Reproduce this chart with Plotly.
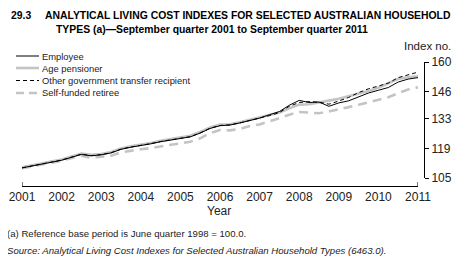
import plotly.graph_objects as go

# quarterly, September quarter 2001 to September quarter 2011
quarters = [2001 + i / 4 for i in range(41)]

employee = [109.8, 110.8, 111.7, 112.5, 113.4, 114.8, 116.2, 115.5, 116.0, 116.9,
            118.6, 119.6, 120.3, 121.2, 122.2, 122.9, 123.7, 124.5, 126.3, 128.5,
            129.8, 130.1, 131.1, 132.3, 133.4, 135.0, 136.5, 139.5, 141.8, 140.8,
            141.0, 139.0, 140.6, 141.6, 143.4, 145.3, 146.6, 147.9, 150.5, 151.9,
            152.6]
age_pensioner = [110.0, 111.0, 112.0, 112.9, 113.8, 115.2, 116.6, 116.0, 116.4, 117.3,
                 119.0, 120.0, 120.7, 121.6, 122.6, 123.4, 124.2, 125.0, 126.8, 129.0,
                 130.3, 130.5, 131.4, 132.5, 133.5, 134.8, 136.0, 138.0, 139.8, 140.0,
                 141.0, 141.7, 142.6, 143.8, 145.0, 146.3, 147.8, 150.0, 152.0, 152.8,
                 153.2]
other_govt = [109.8, 110.8, 111.8, 112.6, 113.5, 114.9, 116.3, 115.6, 116.1, 117.0,
              118.7, 119.7, 120.4, 121.3, 122.3, 123.0, 123.8, 124.6, 126.4, 128.6,
              129.9, 130.2, 131.1, 132.2, 133.2, 134.6, 136.0, 139.0, 140.8, 141.2,
              141.0, 140.0, 141.5, 143.2, 145.5, 147.3, 148.6, 150.0, 152.6, 154.0,
              155.2]
self_funded = [109.6, 110.6, 111.5, 112.3, 113.2, 114.4, 115.6, 114.6, 115.0, 115.6,
               117.2, 118.0, 118.6, 119.2, 120.0, 120.8, 121.5, 122.2, 123.8, 126.3,
               127.7, 127.6, 128.3, 129.6, 130.4, 131.8, 133.4, 135.0, 136.3, 136.0,
               135.7, 136.5, 137.4, 138.6, 139.7, 140.8, 142.1, 143.3, 145.2, 147.0,
               148.0]

year_ticks = list(range(2001, 2012))
index_ticks = [105, 119, 133, 146, 160]

W, H = 461, 260
OFF = 8  # page body margin pushes the figure 8px right and down
FONT = "Liberation Sans, Arial, sans-serif"
GREY = "#c4c4c4"

series = [
    ("Age pensioner", age_pensioner, dict(color=GREY, width=2.6)),
    ("Self-funded retiree", self_funded, dict(color=GREY, width=2.6, dash="9px,6px")),
    ("Other government transfer recipient", other_govt, dict(color="black", width=1, dash="4px,3px")),
    ("Employee", employee, dict(color="black", width=1)),
]

fig = go.Figure()
for name, vals, line in series:
    fig.add_trace(go.Scatter(x=quarters, y=vals, mode="lines", name=name, line=line))

def px(x):
    return (x - OFF) / W

def py(y):
    return 1 - (y - OFF) / H

fig.update_layout(
    width=W, height=H,
    margin=dict(l=0, r=0, t=0, b=0, autoexpand=False),
    paper_bgcolor="white", plot_bgcolor="white",
    showlegend=False,
    font=dict(family=FONT, size=12, color="#222"),
    xaxis=dict(
        domain=[px(22), px(418)], range=[2001, 2011],
        anchor="free", position=py(186),
        tickvals=year_ticks, ticks="", showgrid=False, zeroline=False,
        showline=True, linecolor="black", linewidth=1,
        tickfont=dict(size=12, color="#222"),
    ),
    yaxis=dict(
        domain=[py(178), py(62)], range=[105, 160],
        side="right", anchor="free", position=px(424),
        tickvals=index_ticks, ticks="outside", ticklen=4, tickcolor="black",
        showgrid=False, zeroline=False,
        showline=True, linecolor="black", linewidth=1,
        tickfont=dict(size=12, color="#222"),
    ),
)

# end ticks on the x axis
for xv in (2001, 2011):
    fig.add_shape(type="line", xref="x", yref="paper", x0=xv, x1=xv,
                  y0=py(186), y1=py(182), line=dict(color="black", width=1))

# legend drawn by hand
legend_rows = [
    ("Employee", dict(color="black", width=1), 56),
    ("Age pensioner", dict(color=GREY, width=2.6), 68),
    ("Other government transfer recipient", dict(color="black", width=1, dash="4px,3px"), 80.5),
    ("Self-funded retiree", dict(color=GREY, width=2.6, dash="8px,5px"), 93),
]
for label, line, yy in legend_rows:
    fig.add_shape(type="line", xref="paper", yref="paper", x0=px(16), x1=px(39),
                  y0=py(yy), y1=py(yy), line=line)
    fig.add_annotation(text=label, xref="paper", yref="paper", x=px(40), y=py(yy),
                       xanchor="left", yanchor="middle", showarrow=False,
                       font=dict(size=9.4, color="#222"))

title_font = dict(family=FONT, size=10.4, color="black")
fig.add_annotation(text="<b>29.3</b>", xref="paper", yref="paper", x=px(9), y=py(15),
                   xanchor="left", yanchor="middle", showarrow=False, font=title_font)
fig.add_annotation(text="<b>ANALYTICAL LIVING COST INDEXES FOR SELECTED AUSTRALIAN HOUSEHOLD</b>",
                   xref="paper", yref="paper", x=px(43), y=py(15),
                   xanchor="left", yanchor="middle", showarrow=False, font=title_font)
fig.add_annotation(text="<b>TYPES (a)—September quarter 2001 to September quarter 2011</b>",
                   xref="paper", yref="paper", x=px(54), y=py(29),
                   xanchor="left", yanchor="middle", showarrow=False, font=title_font)

fig.add_annotation(text="Index no.", xref="paper", yref="paper", x=px(453), y=py(46),
                   xanchor="right", yanchor="middle", showarrow=False, font=dict(size=11.5))
fig.add_annotation(text="Year", xref="paper", yref="paper", x=px(219), y=py(211),
                   xanchor="center", yanchor="middle", showarrow=False, font=dict(size=12))
fig.add_annotation(text="(a) Reference base period is June quarter 1998 = 100.0.",
                   xref="paper", yref="paper", x=px(5), y=py(233),
                   xanchor="left", yanchor="middle", showarrow=False, font=dict(size=9.6))
fig.add_annotation(text="<i>Source: Analytical Living Cost Indexes for Selected Australian Household Types (6463.0).</i>",
                   xref="paper", yref="paper", x=px(5), y=py(250),
                   xanchor="left", yanchor="middle", showarrow=False, font=dict(size=9.6))

fig.write_html("out.html")
